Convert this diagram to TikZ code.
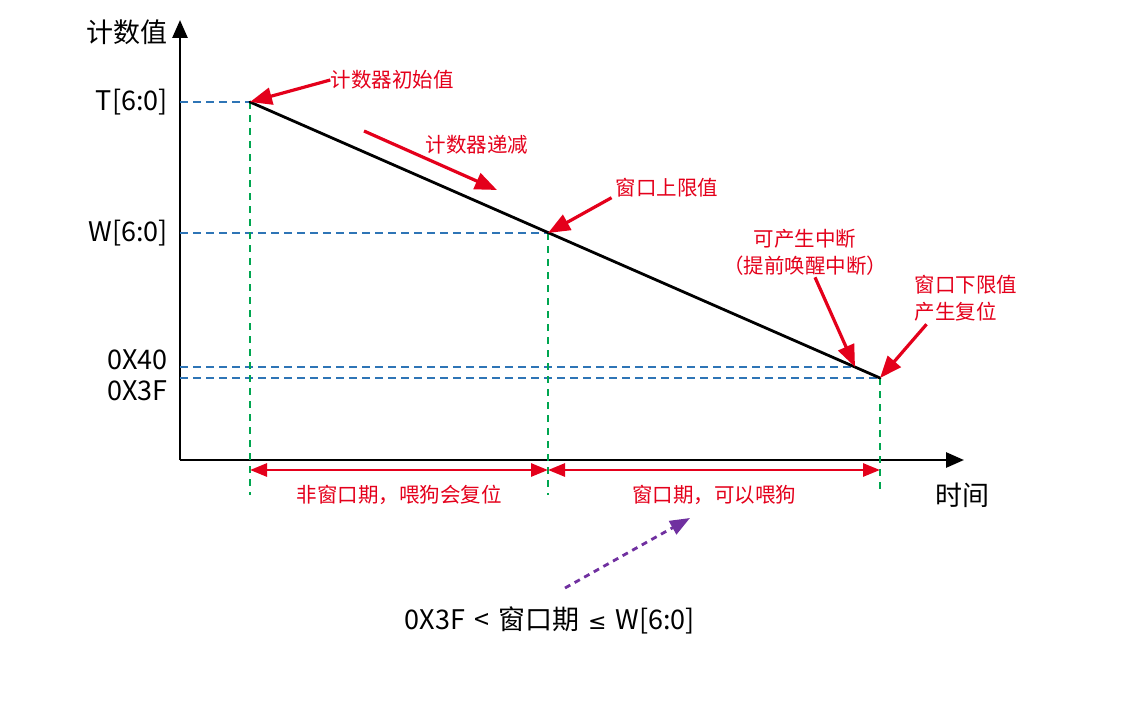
\documentclass[tikz,border=0pt]{standalone}
\usepackage{fontspec}
\setmainfont{Noto Sans CJK SC}
\newfontfamily\symfont{DejaVu Sans}
\usetikzlibrary{arrows.meta, positioning, calc}
\definecolor{wdgred}{RGB}{228,0,27}
\definecolor{wdgblue}{RGB}{46,117,182}
\definecolor{wdggreen}{RGB}{0,166,80}
\definecolor{wdgpurple}{RGB}{112,48,160}
\tikzset{
  axis/.style   ={-{Triangle[length=18pt, width=15pt]}, line width=2.8pt},
  slope/.style  ={line width=2.8pt, line cap=round},
  bluedash/.style ={wdgblue, line width=2.4pt, dash pattern=on 8pt off 5pt},
  greendash/.style={wdggreen, line width=2.4pt, dash pattern=on 7pt off 6pt},
  callout/.style={wdgred, line width=3.2pt, -{Triangle[length=22pt, width=17pt]}},
  span/.style   ={wdgred, line width=2.8pt,
                  {Triangle[length=17pt, width=13pt]}-{Triangle[length=17pt, width=13pt]}},
  hint/.style   ={wdgpurple, line width=2.8pt, dash pattern=on 6pt off 5pt,
                  -{Triangle[length=20pt, width=15pt]}},
  ylab/.style   ={inner sep=0pt, font=\fontsize{27}{32}\selectfont},
  redtxt/.style ={inner sep=0pt, text=wdgred, align=center,
                  font=\fontsize{20.5}{27}\selectfont},
}

\begin{document}
\begin{tikzpicture}[x=1pt, y=-1pt]
  \useasboundingbox (0,0) rectangle (1135,706);

  % axes and key points
  \coordinate (o)    at (180,460);
  \coordinate (ytip) at (180,20);
  \coordinate (xtip) at (964,460);
  \coordinate (ptT)  at (250,102);
  \coordinate (ptW)  at (548,233);
  \coordinate (pt40) at (855,367);
  \coordinate (pt3F) at (880,378);
  \coordinate (bot)  at (0,495);
  \coordinate (sp)   at (0,470);

  \draw[axis] (o) -- (ytip);
  \draw[axis] (o) -- (xtip);
  \node[ylab, anchor=east] (ycap) at (168,32)  {计数值};
  \node[ylab] (xcap) at (962,495) {时间};

  \node[ylab, anchor=east] (tlab) at (168,102) {T[6:0]};
  \node[ylab, anchor=east] (wlab) at (168,233) {W[6:0]};
  \node[ylab, anchor=east] (l40)  at (168,360) {0X40};
  \node[ylab, anchor=east] (l3F)  at (168,391) {0X3F};

  % guide lines
  \draw[bluedash] (o |- ptT)  -- (ptT);
  \draw[bluedash] (o |- ptW)  -- (ptW);
  \draw[bluedash] (o |- pt40) -- (pt40);
  \draw[bluedash] (o |- pt3F) -- (pt3F);
  \draw[greendash] (ptT) -- (ptT |- bot);
  \draw[greendash] (ptW) -- (ptW |- bot);
  \draw[greendash] (pt3F) -- (pt3F |- bot);

  \draw[slope] (ptT) -- (pt3F);

  % periods
  \draw[span] (ptT |- sp) -- (ptW |- sp);
  \draw[span] (ptW |- sp) -- (pt3F |- sp);
  \node[redtxt] (nowin) at (399,495) {非窗口期，喂狗会复位};
  \node[redtxt] (win)   at (714,495) {窗口期，可以喂狗};

  % callouts
  \node[redtxt] (init)  at (392,80)  {计数器初始值};
  \node[redtxt] (dec)   at (477,145) {计数器递减};
  \node[redtxt] (upper) at (667,188) {窗口上限值};
  \node[redtxt] (irq)   at (805,252) {可产生中断\\（提前唤醒中断）};
  \node[redtxt, align=left] (lower) at (966,298) {窗口下限值\\产生复位};
  \coordinate (decA) at (364,131);
  \coordinate (decB) at (497,190);

  \draw[callout] (init.west) -- (ptT);
  \draw[callout] (decA) -- (decB);
  \draw[callout] ([xshift=-4pt]upper.south west) -- (ptW);
  \draw[callout] ([xshift=10pt, yshift=-2pt]irq.south) -- (pt40);
  \draw[callout] ([xshift=12pt, yshift=-3pt]lower.south west) -- (pt3F);

  % window condition
  \node[ylab] (cond) at (550,620)
       {0X3F\hspace{9pt}<\hspace{9pt}窗口期\hspace{9pt}{\symfont\fontsize{22}{26}\selectfont ≤}\hspace{9pt}W[6:0]};
  \coordinate (hintA) at (565,588);
  \coordinate (hintB) at (690,518);
  \draw[hint] (hintA) -- (hintB);
\end{tikzpicture}
\end{document}
